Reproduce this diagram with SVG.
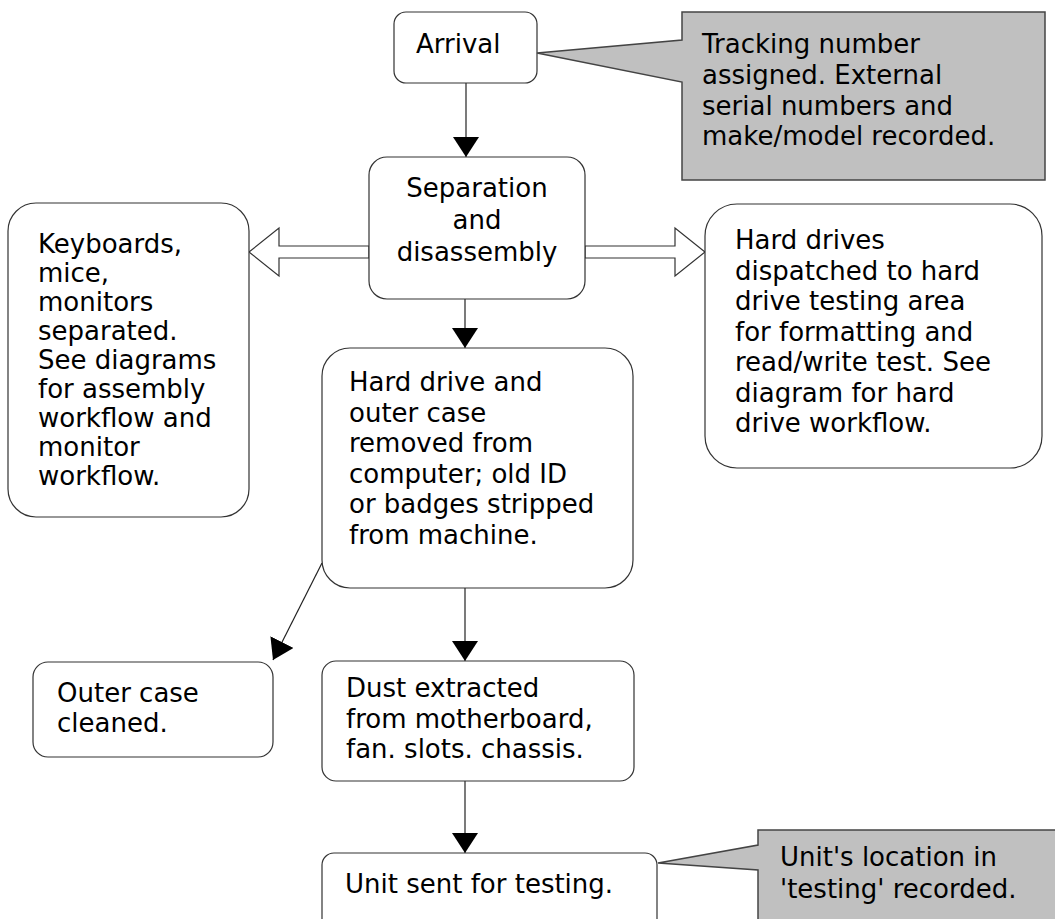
<svg xmlns="http://www.w3.org/2000/svg" width="1055" height="919" viewBox="0 0 1055 919">
  <style>
    .box { fill: #ffffff; stroke: #333333; stroke-width: 1.2; }
    .note { fill: #c0c0c0; stroke: #444444; stroke-width: 1.5; }
    .hollow { fill: #ffffff; stroke: #333333; stroke-width: 1.2; }
    .edge { fill: none; stroke: #222222; stroke-width: 1.2; }
    .t { font-family: "DejaVu Sans", Verdana, sans-serif; font-size: 26px; fill: #000000; }
    .mid { text-anchor: middle; }
  </style>
  <defs>
    <marker id="head" markerUnits="userSpaceOnUse" markerWidth="20" markerHeight="26" refX="20" refY="13" orient="auto">
      <path d="M0,0 L20,13 L0,26 Z" fill="#000000"/>
    </marker>
  </defs>

  <rect width="1055" height="919" fill="#ffffff"/>

  <!-- connectors -->
  <g id="connectors">
    <line class="edge" x1="466" y1="83" x2="466" y2="157" marker-end="url(#head)"/>
    <line class="edge" x1="465" y1="299" x2="465" y2="348" marker-end="url(#head)"/>
    <line class="edge" x1="465" y1="588" x2="465" y2="661" marker-end="url(#head)"/>
    <line class="edge" x1="465" y1="781" x2="465" y2="853" marker-end="url(#head)"/>
    <line class="edge" x1="322" y1="563" x2="273" y2="660" marker-end="url(#head)"/>
    <!-- block arrows out of the separation step -->
    <polygon class="hollow" points="369,246 279,246 279,228 249,252 279,276 279,258 369,258"/>
    <polygon class="hollow" points="585,246 675,246 675,228 705,252 675,276 675,258 585,258"/>
  </g>

  <g id="arrival">
    <rect class="box" x="394" y="12" width="143" height="71" rx="12"/>
    <text class="t" x="416" y="53">Arrival</text>
  </g>

  <g id="arrival-note">
    <path class="note" d="M682,12 H1045 V180 H682 V82 L537,53 L682,40 Z"/>
    <text class="t" x="702" y="53">Tracking number</text>
    <text class="t" x="702" y="84">assigned. External</text>
    <text class="t" x="702" y="115">serial numbers and</text>
    <text class="t" x="702" y="145">make/model recorded.</text>
  </g>

  <g id="separation">
    <rect class="box" x="369" y="157" width="216" height="142" rx="18"/>
    <text class="t mid" x="477" y="197">Separation</text>
    <text class="t mid" x="477" y="229">and</text>
    <text class="t mid" x="477" y="261">disassembly</text>
  </g>

  <g id="peripherals">
    <rect class="box" x="8" y="203" width="241" height="314" rx="28"/>
    <text class="t" x="38" y="253">Keyboards,</text>
    <text class="t" x="38" y="282">mice,</text>
    <text class="t" x="38" y="311">monitors</text>
    <text class="t" x="38" y="340">separated.</text>
    <text class="t" x="38" y="369">See diagrams</text>
    <text class="t" x="38" y="398">for assembly</text>
    <text class="t" x="38" y="427">workflow and</text>
    <text class="t" x="38" y="456">monitor</text>
    <text class="t" x="38" y="485">workflow.</text>
  </g>

  <g id="hard-drives">
    <rect class="box" x="705" y="204" width="337" height="264" rx="32"/>
    <text class="t" x="735" y="249">Hard drives</text>
    <text class="t" x="735" y="279.5">dispatched to hard</text>
    <text class="t" x="735" y="310">drive testing area</text>
    <text class="t" x="735" y="340.5">for formatting and</text>
    <text class="t" x="735" y="371">read/write test. See</text>
    <text class="t" x="735" y="401.5">diagram for hard</text>
    <text class="t" x="735" y="432">drive workflow.</text>
  </g>

  <g id="strip">
    <rect class="box" x="322" y="348" width="311" height="240" rx="28"/>
    <text class="t" x="349" y="391">Hard drive and</text>
    <text class="t" x="349" y="421.5">outer case</text>
    <text class="t" x="349" y="452">removed from</text>
    <text class="t" x="349" y="482.5">computer; old ID</text>
    <text class="t" x="349" y="513">or badges stripped</text>
    <text class="t" x="349" y="543.5">from machine.</text>
  </g>

  <g id="outer-case">
    <rect class="box" x="33" y="662" width="240" height="95" rx="15"/>
    <text class="t" x="57" y="702">Outer case</text>
    <text class="t" x="57" y="732">cleaned.</text>
  </g>

  <g id="dust">
    <rect class="box" x="322" y="661" width="312" height="120" rx="14"/>
    <text class="t" x="346" y="697">Dust extracted</text>
    <text class="t" x="346" y="728">from motherboard,</text>
    <text class="t" x="346" y="758">fan. slots. chassis.</text>
  </g>

  <g id="testing">
    <rect class="box" x="322" y="853" width="335" height="100" rx="12"/>
    <text class="t" x="345" y="893">Unit sent for testing.</text>
  </g>

  <g id="testing-note">
    <path class="note" d="M758,830 H1062 V930 H758 V870 L658,863 L758,845 Z"/>
    <text class="t" x="780" y="866">Unit's location in</text>
    <text class="t" x="780" y="898">'testing' recorded.</text>
  </g>
</svg>
